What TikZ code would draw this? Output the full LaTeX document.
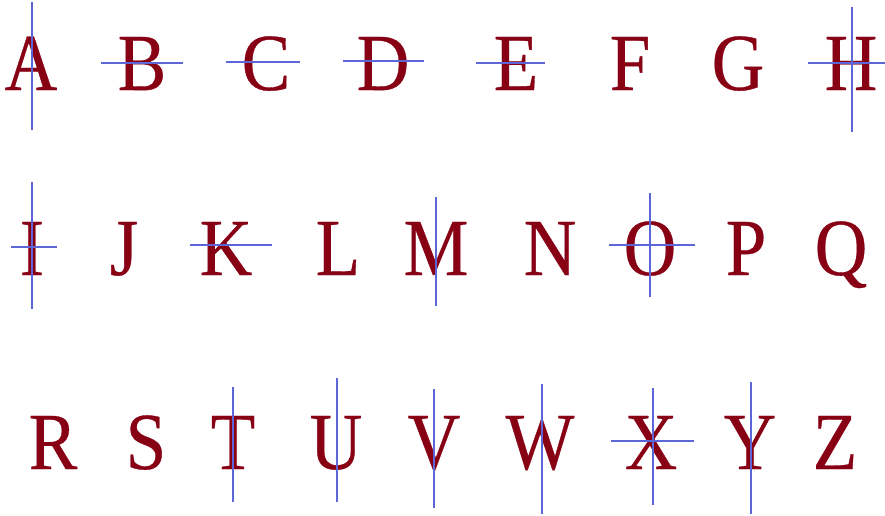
\documentclass[tikz,border=0pt]{standalone}
\usepackage{fontspec}
\newfontfamily\glyphfont{Liberation Serif}[FakeStretch=0.9,FakeBold=0.4]
\usepackage{tikz}
\usetikzlibrary{positioning,calc}
\usepackage{xcolor}
\definecolor{glyphred}{HTML}{870014}
\definecolor{axisblue}{HTML}{5C66D6}
\tikzset{
  glyph/.style={font=\glyphfont\fontsize{81}{81}\selectfont,text=glyphred,anchor=base,inner sep=0pt},
  symaxis/.style={draw=axisblue,line width=1.1pt},
}

\begin{document}
\begin{tikzpicture}[x=1pt,y=-1pt]
\useasboundingbox (0,0) rectangle (885,515);
% row 1
\node[glyph] (A) at (31,90) {A};
\node[glyph] (B) at (142,90) {B};
\node[glyph] (C) at (266,90) {C};
\node[glyph] (D) at (383,90) {D};
\node[glyph] (E) at (516,90) {E};
\node[glyph] (F) at (630,90) {F};
\node[glyph] (G) at (738,90) {G};
\node[glyph] (H) at (851,90) {H};
% row 2
\node[glyph] (I) at (32,275) {I};
\node[glyph] (J) at (124,275) {J};
\node[glyph] (K) at (226,275) {K};
\node[glyph] (L) at (338,275) {L};
\node[glyph] (M) at (436,275) {M};
\node[glyph] (N) at (550,275) {N};
\node[glyph] (O) at (650,275) {O};
\node[glyph] (P) at (746,275) {P};
\node[glyph] (Q) at (841,275) {Q};
% row 3
\node[glyph] (R) at (53,469) {R};
\node[glyph] (S) at (146,469) {S};
\node[glyph] (T) at (233,469) {T};
\node[glyph] (U) at (336,469) {U};
\node[glyph] (V) at (434,469) {V};
\node[glyph] (W) at (540,469) {W};
\node[glyph] (X) at (651,469) {X};
\node[glyph] (Y) at (750,469) {Y};
\node[glyph] (Z) at (835,469) {Z};
% symmetry axes
\draw[symaxis] (A.base) ++(1,-88) -- ++(0,128);
\draw[symaxis] (B.base) ++(-41,-27) -- ++(82,0);
\draw[symaxis] (C.base) ++(-40,-28) -- ++(74,0);
\draw[symaxis] (D.base) ++(-40,-29) -- ++(81,0);
\draw[symaxis] (E.base) ++(-40,-27) -- ++(69,0);
\draw[symaxis] (H.base) ++(-43,-27) -- ++(77,0);
\draw[symaxis] (H.base) ++(1,-83) -- ++(0,125);
\draw[symaxis] (I.base) ++(0,-93) -- ++(0,127);
\draw[symaxis] (I.base) ++(-21,-28) -- ++(46,0);
\draw[symaxis] (K.base) ++(-36,-30) -- ++(82,0);
\draw[symaxis] (M.base) ++(0,-78) -- ++(0,109);
\draw[symaxis] (O.base) ++(0,-82) -- ++(0,104);
\draw[symaxis] (O.base) ++(-41,-30) -- ++(86,0);
\draw[symaxis] (T.base) ++(0,-82) -- ++(0,115);
\draw[symaxis] (U.base) ++(1,-91) -- ++(0,124);
\draw[symaxis] (V.base) ++(0,-80) -- ++(0,119);
\draw[symaxis] (W.base) ++(2,-85) -- ++(0,130);
\draw[symaxis] (X.base) ++(2,-81) -- ++(0,117);
\draw[symaxis] (X.base) ++(-40,-28) -- ++(83,0);
\draw[symaxis] (Y.base) ++(1,-87) -- ++(0,132);
\end{tikzpicture}
\end{document}
